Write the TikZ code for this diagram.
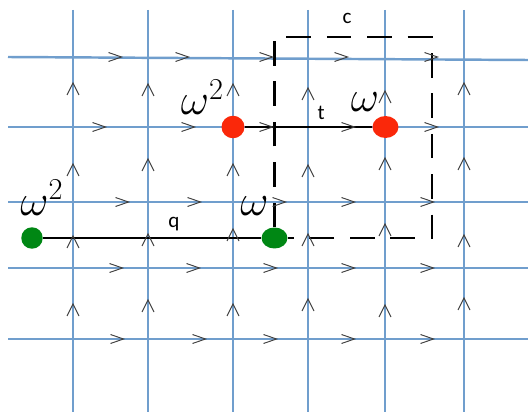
\documentclass[tikz,border=0pt]{standalone}
\usepackage{fontspec}
\setsansfont{Carlito}
\usetikzlibrary{shapes.geometric}
\definecolor{gridblue}{RGB}{112,158,205}
\definecolor{dotred}{RGB}{250,40,10}
\definecolor{dotgreen}{RGB}{0,135,20}

\begin{document}
\begin{tikzpicture}[x = 0.02cm, y = -0.02cm,
    lattice/.style = {draw = gridblue, line width = 1.4pt},
    chev/.style = {draw = black!75, line width = 0.55pt},
    dot/.style = {ellipse, draw = none, inner sep = 0pt},
    reddot/.style = {dot, fill = dotred},
    greendot/.style = {dot, fill = dotgreen},
    bond/.style = {draw = black, line width = 1.2pt},
    loopline/.style = {draw = black, line width = 1.7pt, dash pattern = on 14pt off 9pt},
    om/.style = {font = \fontsize{23}{26}\selectfont, inner sep = 0pt, anchor = base},
    lab/.style = {font = \sffamily\fontsize{12}{14}\selectfont}]
  \useasboundingbox (0, 0) rectangle (528, 412);

  % lattice
  \foreach \x in {73, 148, 233, 308, 385, 464}
    \draw[lattice] (\x, 10) -- (\x, 412);
  \draw[lattice] (8, 57) -- (528, 60);
  \foreach \y in {127, 202, 268, 339}
    \draw[lattice] (8, \y) -- (528, \y);

  % charges
  \node [reddot, minimum width = 0.46cm, minimum height = 0.45cm] (R1) at (233, 127){};
  \node [reddot, minimum width = 0.52cm, minimum height = 0.44cm] (R2) at (385.5, 127){};
  \node [greendot, minimum width = 0.43cm, minimum height = 0.43cm] (G1) at (32, 238){};
  \node [greendot, minimum width = 0.52cm, minimum height = 0.42cm] (G2) at (274.5, 238){};

  \node [om] (W1) at (202.5, 115) {$\omega^2$};
  \node [om] (W2) at (365, 112) {$\omega$};
  \node [om] (W3) at (42, 215) {$\omega^2$};
  \node [om] (W4) at (254.5, 215) {$\omega$};

  \draw [bond] (R1) -- (R2) node [lab, pos = 0.6, above] (T) {t};
  \draw [bond] (G1) -- (G2) node [lab, pos = 0.6, above] (Q) {q};

  % loop c
  \coordinate (C) at (432, 37);
  \draw [loopline] (G2) |- (C) |- (G2);
  \node [lab] (CL) at (347, 18) {c};

  % orientations
  \foreach \y/\xs in {57/{115,182,266,341,431}, 127/{99,188,266,348,431},
                      202/{122,194,279,348,427}, 268/{116,193,270,348,427},
                      339/{117,199,270,348,427}}
    \foreach \x in \xs
      \draw [chev] (\x-6.5, \y-4.5) -- (\x+6.5, \y) -- (\x-6.5, \y+4.5);
  \foreach \x/\ys in {73/{89,170,242,310}, 148/{90,165,240,306},
                      233/{90,170,235,310}, 308/{94,171,240,305},
                      385/{97,164,230,311}, 464/{89,164,241,304}}
    \foreach \y in \ys
      \draw [chev] (\x-6, \y+6) -- (\x, \y-6) -- (\x+6, \y+6);
\end{tikzpicture}
\end{document}
